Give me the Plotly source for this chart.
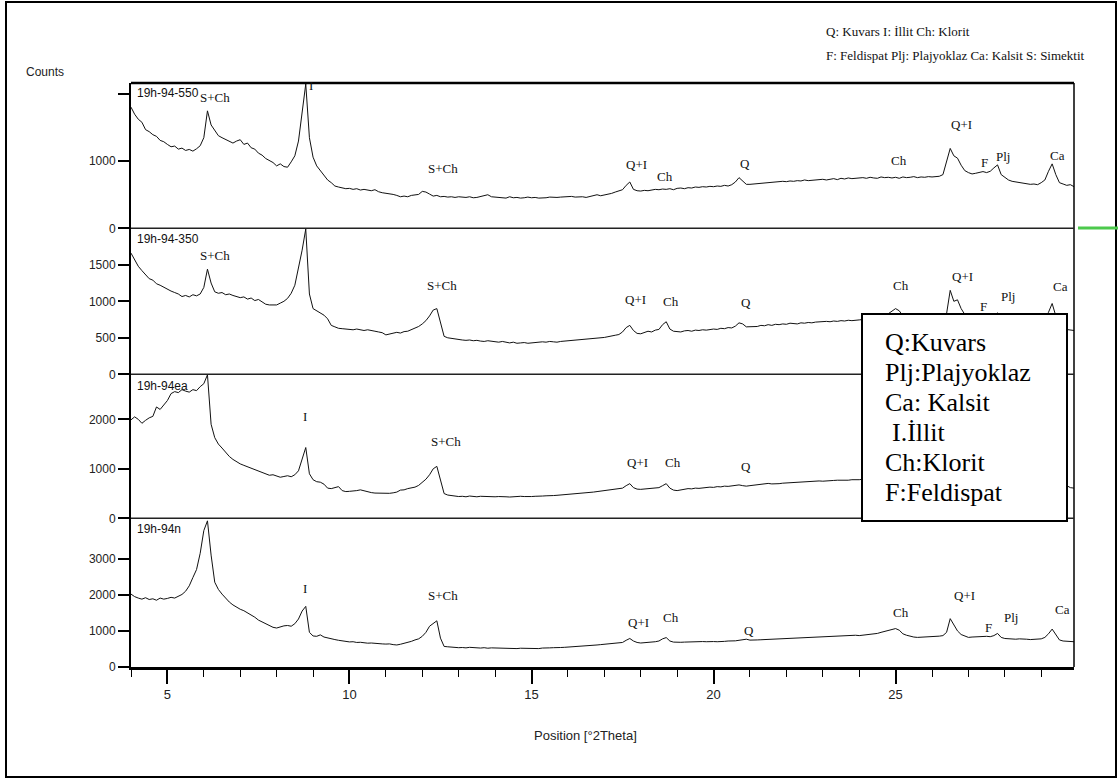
import plotly.graph_objects as go

# ---- scan parameters (°2Theta) ----
START = 4.0
STEP = 0.1
N_POINTS = 260
two_theta = [round(START + i * STEP, 1) for i in range(N_POINTS)]

# ---- measured intensities (counts), one row per degree ----
counts_550 = [
    1805, 1700, 1625, 1580, 1470, 1440, 1395, 1370, 1310, 1290,
    1250, 1215, 1225, 1180, 1195, 1160, 1175, 1150, 1185, 1230,
    1350, 1750, 1540, 1450, 1380, 1350, 1320, 1290, 1270, 1300,
    1320, 1250, 1270, 1200, 1180, 1120, 1090, 1040, 1010, 980,
    930, 960, 920, 910, 990, 1080, 1300, 1750, 2150, 1350,
    1060, 930, 860, 800, 720, 680, 630, 615, 600, 590,
    595, 580, 590, 570, 580, 565, 560, 575, 545, 530,
    525, 520, 505, 490, 470, 480, 470, 490, 500, 505,
    550, 540, 510, 480, 490, 470, 475, 465, 470, 460,
    470, 465, 460, 470, 455, 460, 470, 480, 500, 470,
    465, 455, 460, 450, 470, 455, 460, 450, 455, 465,
    455, 460, 450, 450, 455, 465, 460, 460, 465, 470,
    470, 475, 465, 470, 470, 460, 470, 480, 500, 485,
    495, 510, 520, 540, 560, 575, 640, 690, 580, 560,
    555, 565, 560, 570, 580, 575, 585, 580, 590, 575,
    595, 600, 590, 605, 600, 615, 610, 620, 615, 625,
    620, 630, 625, 640, 630, 650, 690, 755, 700, 655,
    655, 660, 670, 665, 680, 675, 690, 685, 690, 700,
    695, 705, 700, 710, 705, 720, 710, 715, 725, 720,
    730, 720, 735, 740, 725, 745, 735, 750, 740, 745,
    740, 755, 745, 760, 750, 745, 765, 755, 760, 750,
    760, 745, 765, 755, 760, 770, 755, 765, 760, 770,
    765, 770, 775, 800, 980, 1190, 1080, 1045, 940, 860,
    830, 810, 820, 835, 845, 830, 850, 900, 945, 800,
    760, 720, 700, 690, 680, 670, 665, 655, 660, 650,
    680, 720, 850, 960, 800, 680, 660, 640, 650, 620,
]

counts_350 = [
    1660, 1560, 1480, 1420, 1360, 1310, 1290, 1240, 1220, 1190,
    1170, 1140, 1120, 1100, 1065, 1080, 1060, 1090, 1075, 1100,
    1190, 1440, 1250, 1130, 1110, 1120, 1090, 1100, 1080, 1070,
    1050, 1060, 1030, 1045, 1010, 1025, 990, 960, 950, 955,
    950, 975, 1000, 1040, 1110, 1220, 1450, 1700, 1990, 1100,
    900, 870, 850, 810, 760, 670, 650, 630, 625, 620,
    615, 610, 620, 605, 600, 610, 595, 590, 580, 570,
    540, 550, 560, 575, 565, 585, 590, 610, 625, 655,
    690, 735, 800, 880, 900, 700, 520, 500, 490, 480,
    475, 470, 465, 470, 460, 465, 455, 450, 460, 455,
    445, 440, 450, 435, 430, 440, 425, 430, 435, 425,
    430, 440, 435, 445, 440, 450, 445, 440, 450, 455,
    455, 460, 470, 465, 475, 480, 485, 490, 495, 500,
    505, 515, 520, 535, 545, 580, 640, 670, 600, 560,
    555, 570, 590, 580, 605, 615, 680, 720, 620, 590,
    585, 580, 595, 600, 590, 605, 600, 610, 605, 615,
    620, 615, 630, 625, 640, 635, 660, 705, 690, 650,
    650, 660, 655, 670, 665, 680, 670, 685, 680, 690,
    685, 700, 695, 690, 705, 700, 710, 705, 715, 720,
    715, 725, 720, 730, 725, 735, 730, 740, 735, 745,
    745, 750, 760, 755, 765, 760, 770, 790, 830, 870,
    900, 870, 800, 780, 775, 780, 785, 780, 790, 785,
    790, 795, 800, 810, 830, 1150, 1000, 1020, 900, 820,
    800, 790, 800, 795, 810, 800, 790, 810, 840, 800,
    780, 770, 760, 750, 745, 740, 735, 740, 730, 745,
    740, 760, 850, 970, 800, 650, 620, 610, 605, 600,
]

counts_ea = [
    1990, 2050, 2000, 1920, 1980, 2030, 2060, 2250, 2200, 2280,
    2380, 2520, 2560, 2540, 2600, 2570, 2550, 2600, 2580, 2660,
    2720, 2900, 1900, 1630, 1500, 1420, 1330, 1250, 1190, 1140,
    1100, 1070, 1040, 1020, 990, 960, 930, 890, 870, 880,
    850, 830, 845, 860, 840, 880, 960, 1200, 1430, 900,
    780, 740, 730, 690, 610, 600, 620, 640, 560, 540,
    545, 550, 560, 575, 555, 530, 520, 510, 505, 515,
    510, 505, 515, 530, 570, 575, 600, 615, 630, 665,
    730, 790, 880, 1000, 1050, 760, 500, 470, 455, 445,
    440, 445, 435, 450, 440, 435, 445, 440, 430, 440,
    435, 440, 445, 435, 430, 440, 435, 445, 440, 435,
    440, 445, 440, 450, 455, 450, 460, 465, 470, 475,
    480, 490, 495, 505, 500, 510, 520, 530, 540, 550,
    560, 570, 575, 585, 590, 610, 660, 700, 620, 590,
    585, 590, 600, 605, 615, 620, 660, 700, 610, 570,
    560, 575, 590, 600, 595, 610, 605, 615, 620, 630,
    625, 640, 635, 650, 645, 655, 660, 675, 660, 650,
    660, 670, 680, 690, 700, 705, 695, 705, 700, 710,
    715, 720, 725, 730, 735, 740, 745, 740, 750, 755,
    750, 760, 755, 765, 770, 765, 775, 770, 780, 775,
    780, 790, 785, 795, 800, 810, 830, 860, 900, 960,
    1000, 930, 860, 830, 820, 815, 820, 810, 825, 830,
    840, 835, 850, 870, 1000, 1300, 1150, 1050, 930, 880,
    860, 850, 845, 850, 880, 860, 850, 870, 930, 860,
    840, 820, 810, 800, 790, 780, 770, 775, 780, 790,
    800, 850, 950, 1100, 900, 760, 700, 660, 620, 610,
]

counts_n = [
    2020, 1950, 1910, 1880, 1920, 1870, 1890, 1850, 1910, 1880,
    1900, 1930, 1910, 1960, 2010, 2100, 2250, 2480, 2700, 3150,
    3780, 4050, 3100, 2350, 2150, 2020, 1900, 1800, 1720, 1650,
    1600, 1560, 1500, 1450, 1380, 1300, 1250, 1180, 1130, 1100,
    1080, 1120, 1140, 1150, 1130, 1200, 1330, 1550, 1680, 960,
    860, 850, 890, 830, 800, 780, 760, 740, 720, 705,
    695, 700, 680, 685, 670, 660, 665, 650, 655, 640,
    635, 640, 620, 610, 630, 650, 680, 710, 750, 780,
    850, 960, 1130, 1200, 1280, 800, 570, 560, 545, 540,
    535, 540, 530, 545, 535, 530, 525, 535, 520, 530,
    525, 520, 530, 515, 525, 520, 510, 520, 515, 525,
    520, 515, 510, 525, 520, 530, 535, 530, 540, 545,
    550, 560, 565, 570, 580, 575, 590, 595, 610, 620,
    630, 645, 650, 660, 665, 680, 740, 790, 720, 680,
    665, 670, 680, 690, 700, 720, 780, 815, 720, 690,
    680, 685, 690, 695, 690, 700, 695, 705, 700, 710,
    705, 700, 715, 710, 720, 715, 725, 740, 760, 770,
    745, 740, 750, 755, 760, 765, 770, 775, 780, 785,
    790, 785, 795, 800, 810, 805, 815, 820, 830, 840,
    845, 840, 850, 855, 860, 850, 860, 870, 875, 880,
    870, 880, 890, 900, 910, 930, 960, 990, 1020, 1050,
    1065, 1020, 920, 880, 850, 830, 820, 825, 815, 830,
    840, 850, 855, 870, 960, 1340, 1150, 1000, 900, 850,
    820, 830, 840, 830, 860, 850, 840, 870, 930, 820,
    790, 780, 775, 770, 780, 765, 770, 760, 770, 775,
    780, 820, 920, 1050, 900, 750, 720, 710, 720, 700,
]

# ---- phase labels: (text, 2Theta, counts) per pattern ----
peaks_550 = [("S+Ch", 6.32, 1955), ("I", 8.93, 2130), ("S+Ch", 12.56, 890),
             ("Q+I", 17.89, 950), ("Ch", 18.66, 777), ("Q", 20.85, 960),
             ("Ch", 25.10, 1015), ("Q+I", 26.80, 1540), ("F", 27.45, 975),
             ("Plj", 27.95, 1064), ("Ca", 29.45, 1090)]
peaks_350 = [("S+Ch", 6.32, 1634), ("I", 8.78, 2141), ("S+Ch", 12.54, 1223),
             ("Q+I", 17.86, 1027), ("Ch", 18.84, 1004), ("Q", 20.90, 981),
             ("Ch", 25.16, 1223), ("Q+I", 26.83, 1337), ("F", 27.42, 926),
             ("Plj", 28.10, 1063), ("Ca", 29.53, 1200)]
peaks_ea = [("S+Ch", 6.02, 3063), ("I", 8.78, 2067), ("S+Ch", 12.64, 1562),
            ("Q+I", 17.90, 1123), ("Ch", 18.88, 1123), ("Q", 20.89, 1042)]
peaks_n = [("S+Ch", 6.34, 4519), ("I", 8.78, 2178), ("S+Ch", 12.57, 1972),
           ("Q+I", 17.93, 1233), ("Ch", 18.84, 1372), ("Q", 20.98, 1000),
           ("Ch", 25.14, 1511), ("Q+I", 26.88, 1972), ("F", 27.54, 1094),
           ("Plj", 28.18, 1372), ("Ca", 29.59, 1603)]

legend_lines = ["Q:Kuvars", "Plj:Plajyoklaz", "Ca: Kalsit", "I.İllit", "Ch:Klorit", "F:Feldispat"]
header_lines = ["Q: Kuvars I: İllit Ch: Klorit",
                "F: Feldispat Plj: Plajyoklaz Ca: Kalsit S: Simektit"]

SANS = "Liberation Sans, Arial, sans-serif"
SERIF = "Liberation Serif, Times New Roman, serif"

W, H = 1118, 780
L, R, T, B = 131, 44, 83, 113
PW, PH = W - L - R, H - T - B


def fx(px):
    return (px - L) / PW


def fy(py):
    return (H - B - py) / PH


# top to bottom: name, counts, axis id, domain, top of range, ticks, labels, phase labels, name height
panels = [
    ("19h-94-550", counts_550, "y4", [0.7512, 1.0], 2165, [0, 1000, 2000], ["0", "1000", ""], peaks_550, 2010),
    ("19h-94-350", counts_350, "y3", [0.5012, 0.7512], 2000, [0, 500, 1000, 1500],
     ["0", "500", "1000", "1500"], peaks_350, 1849),
    ("19h-94ea", counts_ea, "y2", [0.2546, 0.5012], 2910, [0, 1000, 2000], ["0", "1000", "2000"], peaks_ea, 2673),
    ("19h-94n", counts_n, "y", [0.0, 0.2546], 4120, [0, 1000, 2000, 3000],
     ["0", "1000", "2000", "3000"], peaks_n, 3825),
]

fig = go.Figure()
annotations = []
layout_axes = {}

for name, counts, yid, dom, top, tv, tt, peaks, name_y in panels:
    fig.add_trace(go.Scatter(x=two_theta, y=counts, xaxis="x", yaxis=yid, mode="lines",
                             line=dict(color="#111111", width=1), showlegend=False,
                             hoverinfo="skip"))
    key = "yaxis" if yid == "y" else "yaxis" + yid[1:]
    layout_axes[key] = dict(
        domain=dom, range=[0, top], anchor="x", tickmode="array", tickvals=tv, ticktext=tt,
        ticks="outside", ticklen=11, tickwidth=1.5, tickcolor="black",
        showline=True, linewidth=2, linecolor="black", showgrid=False, zeroline=False,
        tickfont=dict(family=SANS, size=12, color="#222222"),
    )
    annotations.append(dict(x=4.1, y=name_y, xref="x", yref=yid, text=name, showarrow=False,
                            xanchor="left", yanchor="middle",
                            font=dict(family=SANS, size=12, color="#111111")))
    for text, px, py in peaks:
        annotations.append(dict(x=px, y=py, xref="x", yref=yid, text=text, showarrow=False,
                                xanchor="center", yanchor="middle",
                                font=dict(family=SERIF, size=13, color="#111111")))

# axis titles and header notes
annotations.append(dict(x=fx(45), y=fy(72), xref="paper", yref="paper", text="Counts",
                        showarrow=False, xanchor="center", yanchor="middle",
                        font=dict(family=SANS, size=12, color="#222222")))
annotations.append(dict(x=fx(585), y=fy(735), xref="paper", yref="paper", text="Position [°2Theta]",
                        showarrow=False, xanchor="center", yanchor="middle",
                        font=dict(family=SANS, size=13, color="#222222")))
for i, line in enumerate(header_lines):
    annotations.append(dict(x=fx(824), y=fy(31 + 25 * i), xref="paper", yref="paper", text=line,
                            showarrow=False, xanchor="left", yanchor="middle",
                            font=dict(family=SERIF, size=13, color="#111111")))

# mineral key inside the boxed legend
for i, line in enumerate(legend_lines):
    shift = 7 if line.startswith("I.") else 0
    annotations.append(dict(x=fx(883 + shift), y=fy(342 + 30 * i), xref="paper", yref="paper",
                            text=line, showarrow=False, xanchor="left", yanchor="middle",
                            font=dict(family=SERIF, size=26, color="black")))

shapes = []
# outer frame
shapes.append(dict(type="rect", xref="paper", yref="paper", x0=fx(6), x1=fx(1116), y0=fy(777), y1=fy(2),
                   line=dict(color="black", width=2), fillcolor="rgba(0,0,0,0)", layer="above"))
# plot top and right edges, panel separators
shapes.append(dict(type="line", xref="paper", yref="paper", x0=0, x1=1, y0=1, y1=1,
                   line=dict(color="black", width=2.5), layer="above"))
shapes.append(dict(type="line", xref="paper", yref="paper", x0=1, x1=1, y0=0, y1=1,
                   line=dict(color="black", width=1.5), layer="above"))
for yb in (0.2546, 0.5012, 0.7512):
    shapes.append(dict(type="line", xref="paper", yref="paper", x0=0, x1=1, y0=yb, y1=yb,
                       line=dict(color="#222222", width=1.5), layer="above"))
# boxed mineral key
shapes.append(dict(type="rect", xref="paper", yref="paper", x0=fx(862), x1=fx(1067), y0=fy(521), y1=fy(314),
                   line=dict(color="black", width=2), fillcolor="white", layer="above"))
# green marker at right edge
shapes.append(dict(type="line", xref="paper", yref="paper", x0=fx(1078), x1=fx(1120), y0=fy(228), y1=fy(228),
                   line=dict(color="#4cc94c", width=3), layer="above"))

fig.update_layout(
    width=W, height=H,
    margin=dict(l=L, r=R, t=T, b=B),
    paper_bgcolor="white", plot_bgcolor="white",
    showlegend=False,
    xaxis=dict(
        range=[4.0, 29.9], anchor="y", tickmode="linear", tick0=0, dtick=5,
        ticks="outside", ticklen=14, tickwidth=1.5, tickcolor="black",
        showline=True, linewidth=2.5, linecolor="black", showgrid=False, zeroline=False,
        tickfont=dict(family=SANS, size=13, color="#222222"),
        minor=dict(tick0=0, dtick=1, ticks="outside", ticklen=7, tickwidth=1, tickcolor="black", showgrid=False),
    ),
    annotations=annotations,
    shapes=shapes,
    **layout_axes,
)

fig.write_html("out.html")
